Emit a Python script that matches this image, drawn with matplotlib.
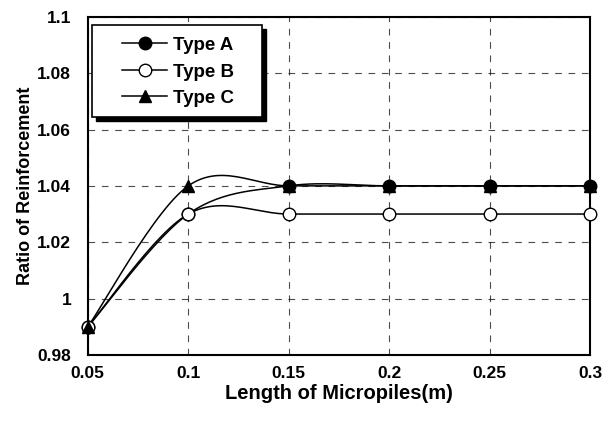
import numpy as np
import matplotlib

matplotlib.use("Agg")
import matplotlib.pyplot as plt
from matplotlib.patches import Rectangle

plt.rcParams["font.family"] = ["Liberation Sans", "DejaVu Sans"]
plt.rcParams["font.weight"] = "bold"

# Data
lengths = [0.05, 0.10, 0.15, 0.20, 0.25, 0.30]
type_a = [0.99, 1.03, 1.04, 1.04, 1.04, 1.04]
type_b = [0.99, 1.03, 1.03, 1.03, 1.03, 1.03]
type_c = [0.99, 1.04, 1.04, 1.04, 1.04, 1.04]
series_names = ["Type A", "Type B", "Type C"]


def smooth(xs, ys, n=30):
    """Excel-style smoothed line (Catmull-Rom Bezier) through the points."""
    p = np.column_stack([xs, ys]).astype(float)
    p = np.vstack([p[0], p, p[-1]])
    out = []
    for i in range(1, len(p) - 2):
        p0, p1, p2, p3 = p[i - 1], p[i], p[i + 1], p[i + 2]
        c1 = p1 + (p2 - p0) / 6
        c2 = p2 - (p3 - p1) / 6
        t = np.linspace(0, 1, n)[:, None]
        seg = ((1 - t) ** 3 * p1 + 3 * (1 - t) ** 2 * t * c1
               + 3 * (1 - t) * t ** 2 * c2 + t ** 3 * p2)
        out.append(seg if i == 1 else seg[1:])
    out = np.vstack(out)
    return out[:, 0], out[:, 1]


fig = plt.figure(figsize=(6.14, 4.21), dpi=100)
ax = fig.add_axes([0.143, 0.157, 0.818, 0.803])

styles = [
    dict(marker="o", mfc="black", mec="black"),
    dict(marker="o", mfc="white", mec="black"),
    dict(marker="^", mfc="black", mec="black"),
]
handles = []
for ys, name, st in zip([type_a, type_b, type_c], series_names, styles):
    sx, sy = smooth(lengths, ys)
    ax.plot(sx, sy, color="black", lw=1.1, zorder=3)
    ax.plot(lengths, ys, ls="none", ms=9, mew=1.0, zorder=4, clip_on=False, **st)
    h, = ax.plot([], [], color="black", lw=1.1, ms=9, label=name, **st)
    handles.append(h)

ax.set_xlim(0.05, 0.3)
ax.set_ylim(0.98, 1.1)
ax.set_xticks(lengths)
ax.set_xticklabels(["0.05", "0.1", "0.15", "0.2", "0.25", "0.3"])
yt = [0.98, 1.0, 1.02, 1.04, 1.06, 1.08, 1.1]
ax.set_yticks(yt)
ax.set_yticklabels(["0.98", "1", "1.02", "1.04", "1.06", "1.08", "1.1"])
ax.tick_params(axis="x", labelsize=12.5, length=0, pad=8)
ax.tick_params(axis="y", labelsize=12.5, length=0, pad=12)
for lab in ax.get_xticklabels() + ax.get_yticklabels():
    lab.set_fontweight("bold")

ax.grid(True, color="black", ls=(0, (6, 6)), lw=0.8, alpha=0.7)
for s in ax.spines.values():
    s.set_linewidth(1.5)

ax.set_xlabel("Length of Micropiles(m)", fontsize=14.5, fontweight="bold", labelpad=2)
ax.set_ylabel("Ratio of Reinforcement", fontsize=13, fontweight="bold", labelpad=2)

# Legend box with solid black shadow (Excel style)
bx0, bx1, by0, by1 = 0.008, 0.347, 0.704, 0.976
dx, dy = 4 / 502, 4 / 338
ax.add_patch(Rectangle((bx0 + dx, by0 - dy), bx1 - bx0, by1 - by0,
                       transform=ax.transAxes, facecolor="black",
                       edgecolor="black", zorder=5))
ax.add_patch(Rectangle((bx0, by0), bx1 - bx0, by1 - by0,
                       transform=ax.transAxes, facecolor="white",
                       edgecolor="black", lw=1.2, zorder=6))
leg = ax.legend(handles=handles, loc="center", bbox_to_anchor=(0.18, 0.837),
                fontsize=13.5, frameon=False, handlelength=2.4,
                handletextpad=0.3, labelspacing=0.5, borderpad=0)
leg.set_zorder(7)
for t in leg.get_texts():
    t.set_fontweight("bold")

fig.savefig("out.png", dpi=100)
